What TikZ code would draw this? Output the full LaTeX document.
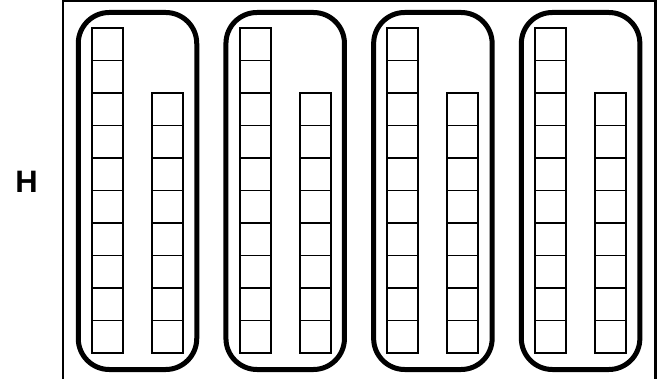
\documentclass[tikz,border=0pt]{standalone}
\usepackage{fontspec}
\setmainfont{Liberation Sans}
\begin{document}
\begin{tikzpicture}[x=1pt, y=-1pt,
  pill/.style={draw, line width=5pt, rounded corners=31pt, minimum width=118.5pt, minimum height=357pt, inner sep=0pt},
  cell/.style={draw, line width=1.9pt, minimum width=31pt, minimum height=32.5pt, inner sep=0pt}]
  \useasboundingbox (0,0) rectangle (664,379);
  % frame, open at the bottom
  \coordinate (fl) at (63,385);
  \coordinate (fr) at (655.5,385);
  \draw[line width=2.2pt] (fl) -- (63,1.2) -- (655.5,1.2) -- (fr);
  \node[font=\bfseries\fontsize{31}{31}\selectfont] (h) at (26.5,182) {H};
  % four groups
  \foreach \i [evaluate=\i as \off using (\i-1)*147.7] in {1,...,4} {
    \node[pill] (p\i) at (137.5+\off,191) {};
    \foreach \k in {1,...,10}
      \node[cell] (t\i-\k) at (107.5+\off,{28+32.5*(\k-0.5)}) {};
    \foreach \k in {1,...,8}
      \node[cell] (s\i-\k) at (167.5+\off,{93+32.5*(\k-0.5)}) {};
  }
\end{tikzpicture}
\end{document}
